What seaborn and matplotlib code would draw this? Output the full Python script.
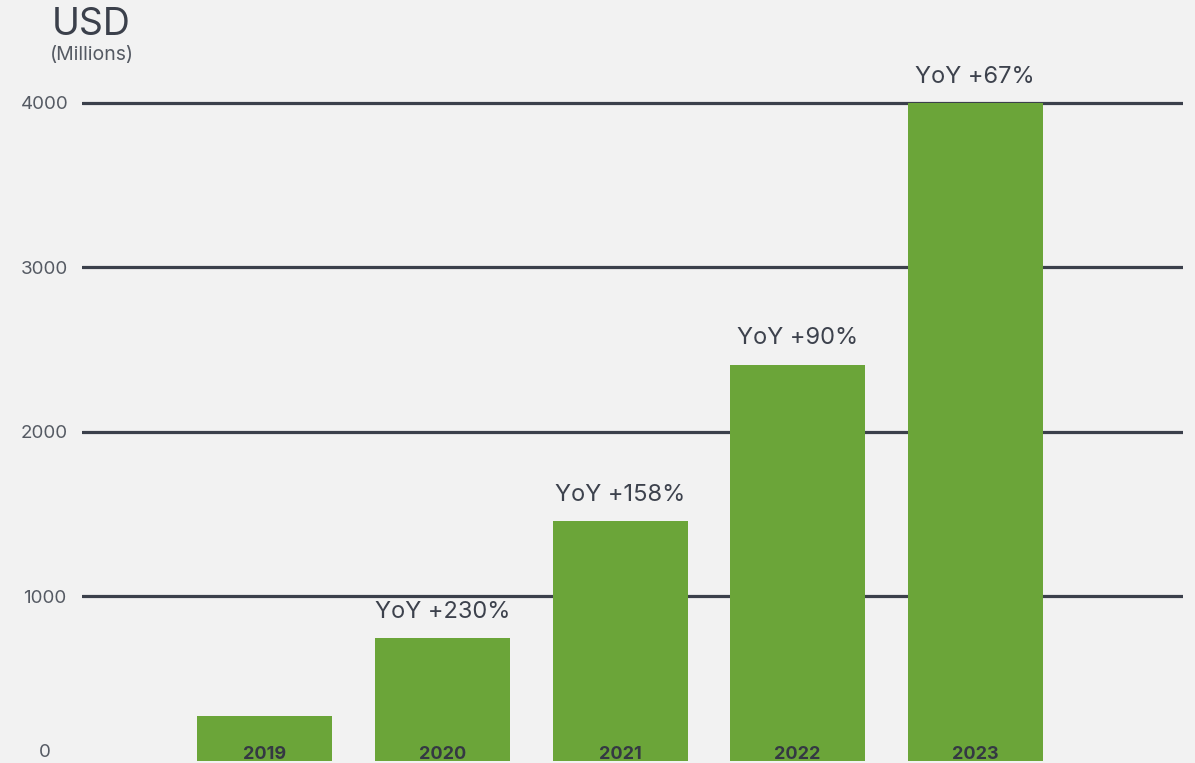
import pandas as pd
import seaborn as sns
import matplotlib.pyplot as plt

years = ['2019', '2020', '2021', '2022', '2023']
revenue = [272, 748, 1457, 2410, 4000]
yoy_labels = ['', 'YoY +230%', 'YoY +158%', 'YoY +90%', 'YoY +67%']
y_ticks = [0, 1000, 2000, 3000, 4000]

bg = '#f2f2f2'
green = '#6ba539'
dark = '#3b404b'

sns.set_theme(style='white')
plt.rcParams['font.family'] = ['Inter', 'DejaVu Sans']

df = pd.DataFrame({'Year': years, 'Revenue': revenue})

fig = plt.figure(figsize=(11.95, 7.63), dpi=100, facecolor=bg)
ax = fig.add_axes([0.0686, 0.0, 0.9214, 1.0])
ax.set_facecolor(bg)

sns.barplot(data=df, x='Year', y='Revenue', order=years, color=green,
            saturation=1, width=0.76, linewidth=0, edgecolor=green,
            ax=ax, zorder=3)

# horizontal grid lines (none at zero)
for t in y_ticks[1:]:
    ax.axhline(t, color=dark, lw=2.3, zorder=1)

ax.bar_label(ax.containers[0], labels=yoy_labels, padding=11,
             fontsize=17, color='#3d424d')

for i, y in enumerate(years):
    ax.text(i, 15, y, ha='center', va='baseline', fontsize=13,
            fontweight='bold', color='#343843', zorder=4)

ax.set_xlim(-1.03, 5.17)
ax.set_ylim(-12.2, 4626)
ax.set_yticks(y_ticks)
ax.set_yticklabels([str(t) for t in y_ticks])
ax.tick_params(axis='y', length=0, pad=27, labelsize=13.5, labelcolor='#555a63')
for lbl in ax.get_yticklabels():
    lbl.set_horizontalalignment('center')
ax.get_yticklabels()[0].set_verticalalignment('bottom')
ax.set_xticks([])
ax.set_xlabel('')
ax.set_ylabel('')
sns.despine(ax=ax, left=True, bottom=True)

fig.text(91 / 1195, 1 - 25 / 763, 'USD', ha='center', va='center',
         fontsize=27, color=dark)
fig.text(92 / 1195, 1 - 55 / 763, '(Millions)', ha='center', va='center',
         fontsize=14, color='#555a63')

fig.savefig('out.png', dpi=100, facecolor=bg)
